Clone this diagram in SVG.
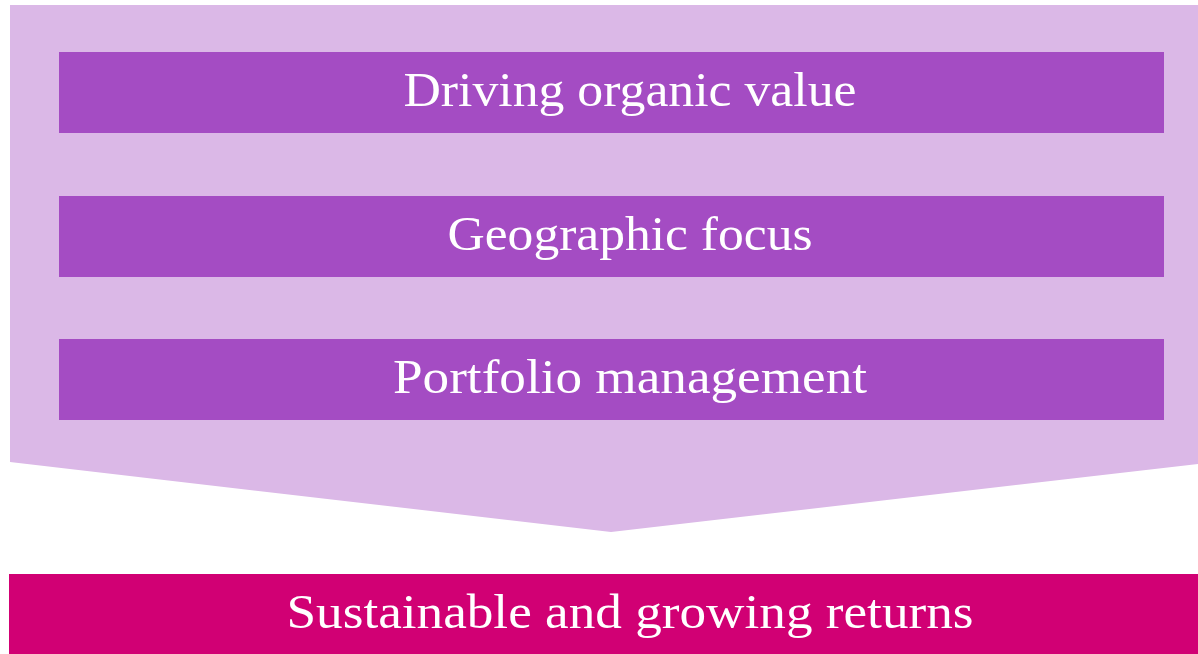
<svg xmlns="http://www.w3.org/2000/svg" width="1198" height="654" viewBox="0 0 1198 654">
<style>
.box{fill:#A44CC3}
.lbl{font-family:"Liberation Serif","Times New Roman",serif;font-size:48px;fill:#ffffff;text-anchor:middle}
</style>
<rect width="1198" height="654" fill="#ffffff"/>
<g id="chevron"><polygon points="10,5 1198,5 1198,464 611,532 10,462" fill="#DBB8E7"/></g>
<g id="node1"><rect class="box" x="59" y="52" width="1105" height="81"/><text class="lbl" x="630" y="106" textLength="453" lengthAdjust="spacingAndGlyphs">Driving organic value</text></g>
<g id="node2"><rect class="box" x="59" y="196" width="1105" height="81"/><text class="lbl" x="630" y="250" textLength="365" lengthAdjust="spacingAndGlyphs">Geographic focus</text></g>
<g id="node3"><rect class="box" x="59" y="339" width="1105" height="81"/><text class="lbl" x="630" y="393" textLength="474" lengthAdjust="spacingAndGlyphs">Portfolio management</text></g>
<g id="result"><rect x="9" y="574" width="1189" height="80" fill="#D10074"/><text class="lbl" x="630" y="628" textLength="687" lengthAdjust="spacingAndGlyphs">Sustainable and growing returns</text></g>
<g id="connectors"></g>
</svg>
